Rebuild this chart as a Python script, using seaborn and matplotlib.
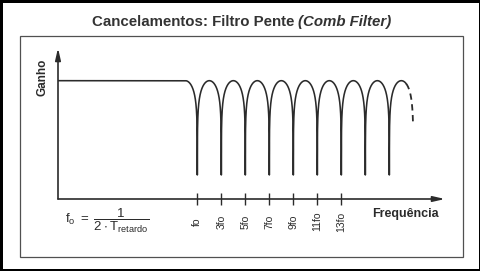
import numpy as np
import pandas as pd
import matplotlib
matplotlib.use("Agg")
import matplotlib.pyplot as plt
import seaborn as sns
from matplotlib.patches import Rectangle

# ---------------- data ----------------
title_main = "Cancelamentos: Filtro Pente "
title_em = "(Comb Filter)"
y_label = "Ganho"
x_label = "Frequência"
formula = r"$\mathregular{f_o\ =\ \dfrac{1}{2\cdot T_{retardo}}}$"

notch_multiples = [1, 3, 5, 7, 9, 11, 13, 15, 17]       # notches at odd multiples of fo
tick_multiples = [1, 3, 5, 7, 9, 11, 13]
tick_labels = ["fo", "3fo", "5fo", "7fo", "9fo", "11fo", "13fo"]
flat_gain_db = 0.0
notch_floor_db = -60.0
solid_end = 18.4          # last drawn solid point (in fo units)
dashed_end = 18.968       # end of the dashed continuation (in fo units)

# ---------------- style ----------------
sns.set_theme(style="white")
plt.rcParams["font.family"] = ["Liberation Sans", "DejaVu Sans"]
plt.rcParams["mathtext.fontset"] = "custom"
plt.rcParams["mathtext.rm"] = "Liberation Sans"
plt.rcParams["mathtext.it"] = "Liberation Sans"
plt.rcParams["mathtext.bf"] = "Liberation Sans:bold"

INK = "#2b2b2b"
W, H = 481, 271
fig = plt.figure(figsize=(W / 100, H / 100), dpi=100)
fig.patch.set_facecolor("white")

def fx(px):
    return px / W

def fy(py):
    return 1 - py / H

# axes area: y-axis at x=58px, x-axis at y=199px, arrows to 445px / 48px
ax = fig.add_axes([fx(58), fy(199), fx(445) - fx(58), fy(48) - fy(199)])
ax.set_facecolor("none")
XMIN, XMAX = -10.61, 21.64
YMIN, YMAX = -75.3, 20.8
ax.set_xlim(XMIN, XMAX)
ax.set_ylim(YMIN, YMAX)

# comb filter response (dB), flat below the first arch
def comb_gain(f):
    g = 20 * np.log10(np.maximum(np.abs(np.cos(np.pi * np.asarray(f) / 2)), 1e-12))
    g = np.maximum(g, notch_floor_db)
    return np.where(np.asarray(f) < 0, flat_gain_db, g)

f_solid = np.unique(np.concatenate([[XMIN], np.linspace(0, solid_end, 6000),
                                    np.array(notch_multiples, dtype=float)]))
f_solid = f_solid[f_solid <= solid_end]
solid_df = pd.DataFrame({"f": f_solid, "gain": comb_gain(f_solid)})
f_dash = np.linspace(solid_end, dashed_end, 400)
dash_df = pd.DataFrame({"f": f_dash, "gain": comb_gain(f_dash)})

sns.lineplot(data=solid_df, x="f", y="gain", ax=ax, color=INK, lw=1.15,
             estimator=None, sort=False)
sns.lineplot(data=dash_df, x="f", y="gain", ax=ax, color=INK, lw=1.3,
             estimator=None, sort=False, dashes=False, linestyle=(0, (3.5, 2.5)))

# axes with arrows
for s in ax.spines.values():
    s.set_visible(False)
arrow = dict(arrowstyle="-|>,head_length=0.7,head_width=0.16", color=INK,
             lw=1.2, shrinkA=0, shrinkB=0, mutation_scale=10)
ax.annotate("", xy=(1, 0), xytext=(0, 0), xycoords="axes fraction",
            textcoords="axes fraction", arrowprops=arrow)
ax.annotate("", xy=(0, 1), xytext=(0, 0), xycoords="axes fraction",
            textcoords="axes fraction", arrowprops=arrow)

ax.set_yticks([])
ax.set_xticks(tick_multiples)
ax.set_xticklabels(tick_labels, rotation=90, fontsize=7.5, color=INK)
ax.tick_params(axis="x", direction="inout", length=8.6, width=1.0,
               color=INK, pad=12.0, bottom=True)
for lab in ax.get_xticklabels():
    lab.set_va("center")
    lab.set_ha("center")
ax.set_xlabel("")
ax.set_ylabel("")
ax.grid(False)

# texts
fig.text(fx(42), fy(77), y_label, rotation=90, ha="center", va="center",
         fontsize=8.5, fontweight="bold", color=INK)
fig.text(fx(372.5), fy(216.7), x_label, ha="left", va="baseline",
         fontsize=9, fontweight="bold", color=INK)
fig.text(fx(107), fy(221), formula, ha="center", va="center",
         fontsize=9.5, color=INK)

t1 = fig.text(0, fy(26), title_main, ha="left", va="baseline",
              fontsize=10.8, fontweight="bold", color="#333333")
t2 = fig.text(0, fy(26), title_em, ha="left", va="baseline",
              fontsize=10.8, fontweight="bold", fontstyle="italic", color="#333333")
fig.canvas.draw()
r = fig.canvas.get_renderer()
w1 = t1.get_window_extent(r).width
w2 = t2.get_window_extent(r).width
x0 = 241.5 - (w1 + w2) / 2
t1.set_x(fx(x0))
t2.set_x(fx(x0 + w1))

# frames
fig.patches.append(Rectangle((fx(19.5), fy(257)), fx(463) - fx(19.5), fy(36) - fy(257),
                             transform=fig.transFigure, fill=False,
                             ec="#505050", lw=0.9))
fig.patches.append(Rectangle((0, 0), 1, 1, transform=fig.transFigure, fill=False,
                             ec="black", lw=3.6))

fig.savefig("out.png", dpi=100, facecolor="white")
